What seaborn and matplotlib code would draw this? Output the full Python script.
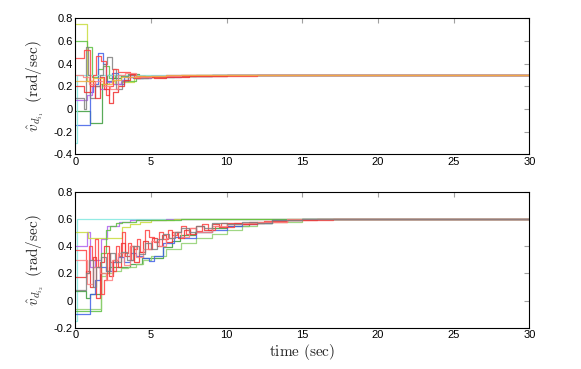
import numpy as np
import pandas as pd
import matplotlib
matplotlib.use("Agg")
import matplotlib.pyplot as plt
import seaborn as sns

# ---------------- data (step series: switch times and held values) ----------------
T_END = 30.0

top_colors = ["#c8dc3c", "#5cc040", "#3c9c3c", "#4060e8", "#80e8e0", "#b060f0",
              "#808080", "#ff4040", "#f03030", "#ff8080", "#f0b040"]
top_t = [
    [0, 0.8, 1.2, 1.6, 2.2, 2.6, 3.0, 3.9, 4.5, 5.5, 7],
    [0, 0.8, 1.1, 1.5, 1.8, 2.2, 2.6, 3.0, 3.5, 4, 5, 6.5, 8],
    [0, 1.0, 1.75, 2.1, 2.5, 3.0, 3.5, 4.2, 5, 7, 9],
    [0, 0.95, 1.2, 1.5, 1.85, 2.0, 2.4, 2.8, 3.2, 3.8, 4.5, 5.5, 7, 9],
    [0, 0.12],
    [0, 0.75, 1.1, 1.6, 2.0, 2.5, 3.0, 3.5, 4, 5, 6],
    [0, 0.55, 0.7, 0.85, 1.0, 1.3, 1.6, 1.8, 2.1, 2.4, 2.7, 3.1, 3.5, 4.0, 4.8, 6, 8, 10],
    [0, 0.6, 1.0, 1.2, 1.4, 1.7, 2.0, 2.2, 2.5, 2.8, 3.6, 3.9, 4.3, 5, 6, 7, 9, 12],
    [0, 0.6, 1.0, 1.3, 1.6, 1.9, 2.2, 2.5, 2.8, 3.2, 3.6, 4.0, 4.6, 5.2, 6, 7.5, 10],
    [0, 0.5, 0.9, 1.3, 1.8, 2.3, 2.8, 3.3, 4, 5, 7],
    [0, 1.2, 1.8, 2.4, 3.0, 4.0, 6],
]
top_v = [
    [0.75, 0.25, 0.20, 0.22, 0.25, 0.22, 0.24, 0.28, 0.29, 0.295, 0.30],
    [0.60, 0.55, 0.28, 0.35, 0.38, 0.27, 0.30, 0.26, 0.25, 0.27, 0.28, 0.29, 0.30],
    [-0.02, -0.12, 0.22, 0.30, 0.27, 0.29, 0.31, 0.28, 0.29, 0.295, 0.30],
    [-0.14, 0.15, 0.22, 0.49, 0.40, 0.25, 0.32, 0.22, 0.28, 0.27, 0.29, 0.28, 0.29, 0.30],
    [-0.30, 0.30],
    [0.08, 0.12, 0.20, 0.18, 0.24, 0.22, 0.26, 0.28, 0.27, 0.29, 0.30],
    [0.10, 0.00, 0.55, 0.30, 0.10, 0.20, 0.30, 0.40, 0.46, 0.35, 0.18, 0.25, 0.30, 0.27, 0.28, 0.29, 0.295, 0.30],
    [0.45, 0.52, 0.20, 0.30, 0.47, 0.42, 0.12, 0.20, 0.35, 0.33, 0.31, 0.27, 0.28, 0.285, 0.29, 0.29, 0.295, 0.30],
    [0.20, 0.15, 0.25, 0.10, 0.28, 0.18, 0.05, 0.15, 0.20, 0.26, 0.31, 0.29, 0.28, 0.27, 0.285, 0.29, 0.30],
    [0.30, 0.28, 0.22, 0.25, 0.20, 0.18, 0.30, 0.32, 0.28, 0.29, 0.30],
    [0.25, 0.27, 0.22, 0.26, 0.28, 0.29, 0.30],
]

bot_colors = ["#80e8e0", "#b060f0", "#c8dc3c", "#5cc040", "#3c9c3c", "#90d070",
              "#4060e8", "#ff4040", "#f03030", "#ff8080", "#808080"]
bot_t = [
    [0, 0.1],
    [0, 0.8, 1.0, 1.3, 1.7, 2.1, 2.9, 3.6, 4.5, 6],
    [0, 0.85, 3.1, 3.6, 4.3, 5.0, 6.5],
    [0, 1.7, 2.0, 2.3, 2.7, 3.1, 4.0, 5.0, 7],
    [0, 0.7, 1.0, 1.7, 2.2, 2.8, 3.6, 4.4, 5.8, 6.4, 6.9, 7.9, 9, 10, 11.5, 13, 15],
    [0, 1.7, 2.0, 2.5, 3.0, 3.5, 4.0, 4.5, 5, 6, 7, 8, 9, 10, 11, 12, 13, 15],
    [0, 1.0, 1.3, 1.6, 2.0, 2.4, 2.8, 3.2, 3.6, 4.0, 4.5, 4.9, 5.2, 5.8, 6.5, 7.2, 8, 9, 10, 11, 12, 13, 15],
    [0, 0.7, 0.9, 1.1, 1.3, 1.5, 1.7, 1.9, 2.1, 2.3, 2.5, 2.7, 2.9, 3.1, 3.3, 3.5, 3.7, 3.9, 4.1, 4.3, 4.6,
     4.9, 5.2, 5.5, 5.8, 6.1, 6.4, 6.7, 7.0, 7.3, 7.6, 8.0, 8.4, 8.8, 9.2, 9.6, 10, 10.5, 11, 11.5, 12,
     12.5, 13, 14, 15, 17],
    [0, 0.7, 1.0, 1.2, 1.4, 1.6, 1.9, 2.2, 2.5, 2.8, 3.0, 3.3, 3.6, 3.9, 4.2, 4.5, 4.8, 5.1, 5.4, 5.7,
     6.0, 6.4, 6.8, 7.2, 7.6, 8.0, 8.5, 9.0, 9.5, 10, 11, 12, 13, 14, 16],
    [0, 0.8, 1.2, 1.6, 2.0, 2.4, 2.8, 3.2, 3.6, 4.0, 4.5, 5, 5.5, 6, 6.5, 7, 7.5, 8, 9, 10, 11, 12, 14],
    [0, 0.7, 0.9, 1.2, 1.4, 1.7, 2.0, 2.3, 2.6, 3.0, 3.4, 3.8, 4.2, 4.6, 5.0, 5.4, 5.8, 6.2, 6.6, 7.0,
     7.5, 8.0, 8.5, 9, 10, 11, 12, 13, 15],
]
bot_v = [
    [-0.15, 0.60],
    [0.40, 0.50, 0.25, 0.30, 0.45, 0.55, 0.58, 0.59, 0.595, 0.60],
    [0.50, 0.46, 0.54, 0.56, 0.58, 0.59, 0.60],
    [-0.08, 0.35, 0.52, 0.55, 0.57, 0.58, 0.59, 0.595, 0.60],
    [0.07, 0.02, 0.05, 0.20, 0.25, 0.25, 0.27, 0.31, 0.39, 0.44, 0.48, 0.50, 0.53, 0.55, 0.57, 0.59, 0.60],
    [-0.06, 0.18, 0.20, 0.22, 0.24, 0.25, 0.27, 0.30, 0.33, 0.38, 0.42, 0.46, 0.49, 0.52, 0.55, 0.57, 0.58, 0.60],
    [-0.10, 0.05, 0.15, 0.25, 0.22, 0.28, 0.32, 0.28, 0.35, 0.33, 0.31, 0.29, 0.33, 0.42, 0.47, 0.46, 0.50,
     0.52, 0.55, 0.56, 0.57, 0.59, 0.60],
    [0.37, 0.20, 0.40, 0.30, 0.45, 0.25, 0.05, 0.15, 0.35, 0.28, 0.22, 0.40, 0.33, 0.50, 0.35, 0.42, 0.30,
     0.38, 0.45, 0.36, 0.52, 0.47, 0.43, 0.50, 0.45, 0.52, 0.48, 0.50, 0.55, 0.49, 0.53, 0.51, 0.56, 0.52,
     0.55, 0.57, 0.54, 0.57, 0.56, 0.58, 0.57, 0.585, 0.58, 0.59, 0.595, 0.60],
    [0.17, 0.22, 0.10, 0.32, 0.02, 0.28, 0.40, 0.18, 0.30, 0.25, 0.42, 0.33, 0.40, 0.28, 0.36, 0.44, 0.38,
     0.46, 0.40, 0.48, 0.43, 0.50, 0.46, 0.52, 0.49, 0.55, 0.52, 0.56, 0.54, 0.57, 0.56, 0.58, 0.585, 0.59, 0.60],
    [0.30, 0.12, 0.25, 0.20, 0.15, 0.30, 0.35, 0.26, 0.40, 0.32, 0.38, 0.44, 0.40, 0.46, 0.50, 0.47, 0.53,
     0.50, 0.55, 0.56, 0.57, 0.58, 0.60],
    [0.08, 0.20, 0.30, 0.10, 0.25, 0.32, 0.22, 0.35, 0.28, 0.36, 0.30, 0.40, 0.34, 0.42, 0.38, 0.45, 0.49,
     0.46, 0.50, 0.53, 0.50, 0.55, 0.53, 0.57, 0.56, 0.58, 0.57, 0.59, 0.60],
]

x_ticks = [0, 5, 10, 15, 20, 25, 30]
top_yticks = [-0.4, -0.2, 0, 0.2, 0.4, 0.6, 0.8]
bot_yticks = [-0.2, 0, 0.2, 0.4, 0.6, 0.8]

# ---------------- style ----------------
sns.set_theme(style="white")
plt.rcParams["font.family"] = ["Liberation Sans", "DejaVu Sans"]
plt.rcParams["mathtext.fontset"] = "cm"
plt.rcParams["axes.unicode_minus"] = False

fig = plt.figure(figsize=(5.81, 3.69), dpi=100)
ax1 = fig.add_axes([0.1296, 0.5818, 0.7815, 0.3686])
ax2 = fig.add_axes([0.1296, 0.1119, 0.7815, 0.3686])


def draw(ax, ts, vs, colors):
    for t, v, c in zip(ts, vs, colors):
        tt = list(t) + [T_END]
        vv = list(v) + [v[-1]]
        df = pd.DataFrame({"t": tt, "v": vv})
        sns.lineplot(data=df, x="t", y="v", ax=ax, color=c, lw=0.9, alpha=0.85,
                     drawstyle="steps-post", estimator=None, sort=False, legend=False)


draw(ax1, top_t, top_v, top_colors)
draw(ax2, bot_t, bot_v, bot_colors)

for ax, yt, ylim, sub in [(ax1, top_yticks, (-0.4, 0.8), "1"), (ax2, bot_yticks, (-0.2, 0.8), "2")]:
    ax.set_xlim(0, 30)
    ax.set_ylim(*ylim)
    ax.set_xticks(x_ticks)
    ax.set_yticks(yt)
    ax.set_xticklabels([str(x) for x in x_ticks])
    ax.set_yticklabels(["0" if abs(y) < 1e-9 else f"{y:.1f}" for y in yt])
    ax.tick_params(direction="in", length=3.5, width=0.8, color="#a0a0a0",
                   top=True, right=True, labelsize=8, pad=2, labelcolor="black")
    for s in ax.spines.values():
        s.set_color("black")
        s.set_linewidth(0.8)
    ax.set_ylabel(r"$\hat{v}_{d_{i_" + sub + r"}}\ \ \left(\mathrm{rad/sec}\right)$", fontsize=11)
    ax.yaxis.set_label_coords(-0.065, 0.5)
    ax.set_xlabel("")

ax2.set_xlabel(r"$\mathrm{time\ (sec)}$", fontsize=11, labelpad=1)

fig.savefig("out.png", dpi=100)
